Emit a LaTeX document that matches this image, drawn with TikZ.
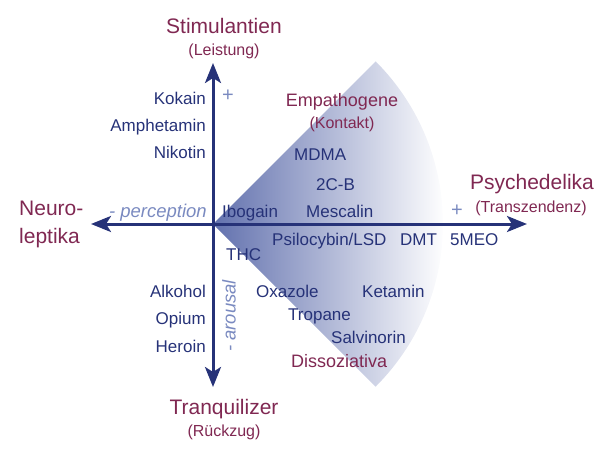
\documentclass[tikz,border=0pt]{standalone}
\usepackage{fontspec}
\setmainfont{Liberation Sans}
\usetikzlibrary{arrows.meta, positioning}

\definecolor{navy}{RGB}{38,50,120}
\definecolor{wine}{RGB}{128,40,82}
\definecolor{haze}{RGB}{122,138,192}
\definecolor{fan}{RGB}{98,113,174}

% fades to white just before the rim of the fan
\pgfdeclarehorizontalshading{fanshade}{100bp}{color(0bp)=(fan); color(25bp)=(fan); color(71bp)=(white); color(100bp)=(white)}

\begin{document}
\begin{tikzpicture}[x=1pt, y=-1pt,
    axis/.style={line width=3pt, draw=navy, {Stealth[length=20pt,width=16pt,inset=5pt]}-{Stealth[length=20pt,width=16pt,inset=5pt]}},
    drug/.style={inner sep=0pt, text=navy, font=\fontsize{17}{19}\selectfont},
    classname/.style={inner sep=0pt, text=wine, font=\fontsize{21}{24}\selectfont},
    midclass/.style={inner sep=0pt, text=wine, font=\fontsize{18}{21}\selectfont},
    classnote/.style={inner sep=0pt, text=wine, font=\fontsize{16}{18}\selectfont},
    axisnote/.style={inner sep=0pt, text=haze, font=\fontsize{18.5}{20}\selectfont\itshape},
    plussign/.style={inner sep=0pt, text=haze, font=\fontsize{20}{22}\selectfont}]

\useasboundingbox (0,0) rectangle (614,455);

\coordinate (O) at (213,224);
\coordinate (W) at (91,224);
\coordinate (E) at (527,224);
\coordinate (N) at (213,63);
\coordinate (S) at (213,387);

% shaded fan of the psychedelics
\shade[shading=fanshade] (O) -- ++(45:230) arc[start angle=45, end angle=-45, radius=230] -- cycle;

\draw[axis] (W) -- (E);
\draw[axis] (N) -- (S);

% classes
\node[classname, anchor=base]      (stim)   at (224,34)  {Stimulantien};
\node[classnote, anchor=base]      (stimn)  at (224,55)  {(Leistung)};
\node[classname, anchor=base]      (psy)    at (532,189) {Psychedelika};
\node[classnote, anchor=base]      (psyn)   at (531,212) {(Transzendenz)};
\node[classname, anchor=base west] (neuro)  at (19,215)  {Neuro-};
\node[classname, anchor=base west] (lept)   at (19,243)  {leptika};
\node[classname, anchor=base]      (tranq)  at (224,414) {Tranquilizer};
\node[classnote, anchor=base]      (tranqn) at (224,436) {(Rückzug)};
\node[midclass, anchor=base]       (emp)    at (342,106) {Empathogene};
\node[classnote, anchor=base]      (empn)   at (342,128) {(Kontakt)};
\node[midclass, anchor=base west]  (diss)   at (291,367) {Dissoziativa};

% axis notes
\node[axisnote, anchor=base east] (perc) at (207,217) {- perception};
\node[axisnote, rotate=90]        (arou) at (229,316) {- arousal};
\node[plussign] (plusN) at (228,96)  {+};
\node[plussign] (plusE) at (457,211) {+};

% left column
\node[drug, anchor=base east] (kok)  at (206,104) {Kokain};
\node[drug, anchor=base east] (amph) at (206,131) {Amphetamin};
\node[drug, anchor=base east] (nik)  at (206,158) {Nikotin};
\node[drug, anchor=base east] (alk)  at (206,297) {Alkohol};
\node[drug, anchor=base east] (opi)  at (206,324) {Opium};
\node[drug, anchor=base east] (her)  at (206,352) {Heroin};

% inside the fan
\node[drug, anchor=base west] (mdma) at (294,160) {MDMA};
\node[drug, anchor=base west] (tcb)  at (316,190) {2C-B};
\node[drug, anchor=base west] (ibo)  at (222,217) {Ibogain};
\node[drug, anchor=base west] (mesc) at (306,217) {Mescalin};
\node[drug, anchor=base west] (thc)  at (226,260) {THC};
\node[drug, anchor=base west] (psil) at (272,245) {Psilocybin/LSD};
\node[drug, anchor=base west] (dmt)  at (400,245) {DMT};
\node[drug, anchor=base west] (meo)  at (450,245) {5MEO};
\node[drug, anchor=base west] (oxa)  at (256,297) {Oxazole};
\node[drug, anchor=base west] (ket)  at (362,297) {Ketamin};
\node[drug, anchor=base west] (trop) at (288,320) {Tropane};
\node[drug, anchor=base west] (salv) at (331,343) {Salvinorin};

\end{tikzpicture}
\end{document}
